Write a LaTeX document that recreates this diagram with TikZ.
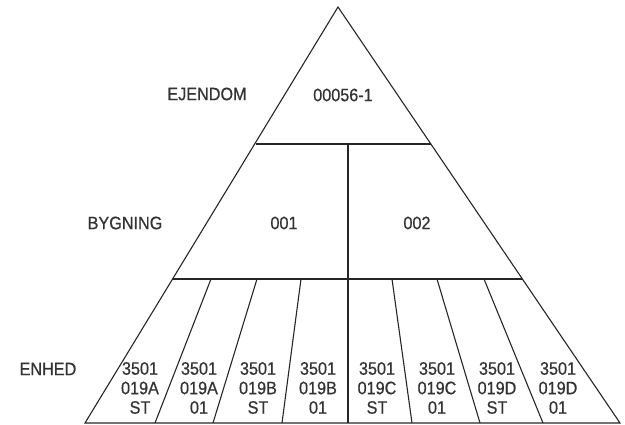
\documentclass[tikz,border=0pt]{standalone}
\usepackage{fontspec}
\setmainfont{Liberation Sans}[FakeStretch=0.9, FakeBold=0.6]
\usetikzlibrary{positioning}

\begin{document}
\begin{tikzpicture}[x=1pt, y=-1pt,
  edge/.style={draw=black!85, line width=1.1pt},
  lbl/.style={text=black!80, font=\fontsize{18}{19.5}\selectfont, inner sep=0pt},
  unit/.style={lbl, align=center}]
\useasboundingbox (0,0) rectangle (625,425);

\coordinate (top) at (338,7);
\coordinate (bl) at (85,423);
\coordinate (br) at (620,423);
\coordinate (e1) at (256,144);
\coordinate (e2) at (431,144);
\coordinate (b1) at (173,279);
\coordinate (b2) at (522,279);
\coordinate (m1) at (348,144);
\coordinate (m2) at (348,423);

\draw[edge] (top) -- (bl) -- (br) -- cycle;
\draw[edge] (e1) -- (e2);
\draw[edge] (b1) -- (b2);
\draw[edge] (m1) -- (m2);
\foreach \t/\b in {211/155, 257/213, 301/282, 392/412, 437/480, 484/543}
  \draw[edge] (\t,279) -- (\b,423);

\node[lbl] (ejendom) at (207,94) {EJENDOM};
\node[lbl] (e0) at (343,95) {00056-1};
\node[lbl] (bygning) at (125,223) {BYGNING};
\node[lbl] (b001) at (284,223) {001};
\node[lbl] (b002) at (417,223) {002};
\node[lbl] (enhed) at (48,369) {ENHED};

\foreach \i/\x/\n/\s in {1/140/019A/ST, 2/199/019A/01, 3/258/019B/ST, 4/318/019B/01,
  5/377/019C/ST, 6/437/019C/01, 7/497/019D/ST, 8/558/019D/01}
  \node[unit] (u\i) at (\x,388) {3501\\\n\\\s};
\end{tikzpicture}
\end{document}
